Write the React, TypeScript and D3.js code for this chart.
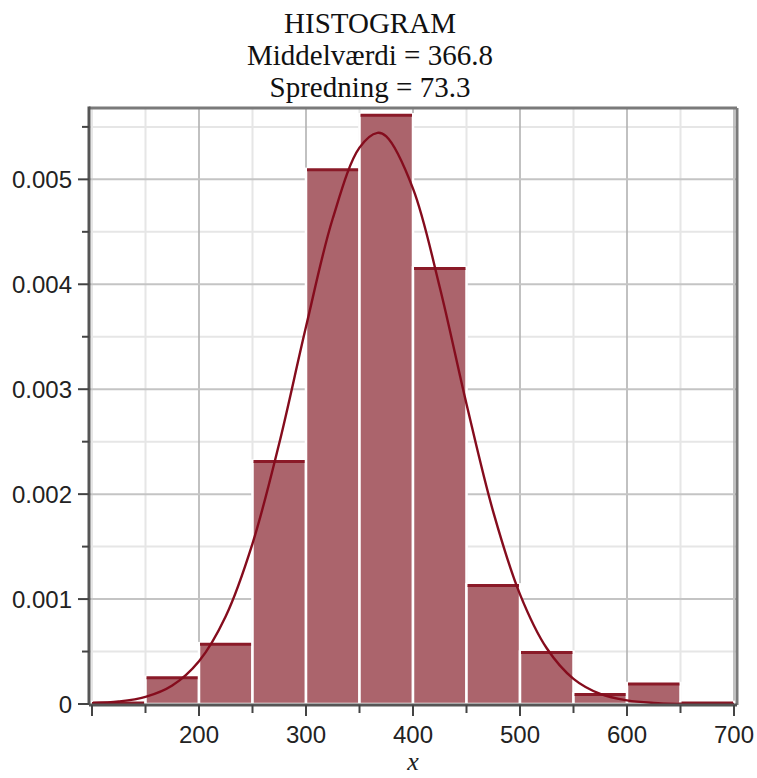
import * as d3 from "d3";

// histogram bins (density scale)
const binStart = [100, 150, 200, 250, 300, 350, 400, 450, 500, 550, 600, 650];
const binEnd = [150, 200, 250, 300, 350, 400, 450, 500, 550, 600, 650, 700];
const density = [
  0.00002, 0.00026, 0.00058, 0.00232, 0.0051, 0.00562,
  0.00416, 0.00114, 0.0005, 0.0001, 0.0002, 0.00002,
];

// fitted normal curve
const curveX = [
  100, 125, 150, 175, 200, 225, 250, 275, 300, 325, 350, 366.8, 375,
  400, 425, 450, 475, 500, 525, 550, 575, 600, 625, 650, 675, 700,
];
const curveY = [
  0.0000072, 0.0000236, 0.0000685, 0.000177, 0.000408, 0.000837, 0.001529,
  0.002485, 0.003595, 0.004627, 0.005302, 0.005443, 0.005409, 0.004912,
  0.003972, 0.002859, 0.001831, 0.001045, 0.000531, 0.00024, 0.0000965,
  0.0000346, 0.000011, 0.0000031, 0.0000008, 0.0000002,
];

const xMajor = [100, 200, 300, 400, 500, 600, 700];
const xLabels = [200, 300, 400, 500, 600, 700];
const xMinor = [150, 250, 350, 450, 550, 650];
const yMajor = [0, 0.001, 0.002, 0.003, 0.004, 0.005];
const yMinor = [0.0005, 0.0015, 0.0025, 0.0035, 0.0045, 0.0055];

const titleLines = ["HISTOGRAM", "Middelværdi = 366.8", "Spredning = 73.3"];

const W = 757;
const H = 778;
const plot = { left: 89, right: 737, top: 108, bottom: 705 };

const BAR_FILL = "#ab646c";
const BAR_TOP = "#8a1a28";
const CURVE = "#850c1d";

export default function App() {
  const x = d3.scaleLinear().domain([100, 700]).range([92, 734]);
  const y = d3.scaleLinear().domain([0, 0.00568]).range([704, plot.top]);

  const curvePts = curveX.map((v, i) => [v, curveY[i]] as [number, number]);
  const line = d3
    .line<[number, number]>()
    .x((d) => x(d[0]))
    .y((d) => y(d[1]))
    .curve(d3.curveCatmullRom.alpha(0.5));

  const tickFont = "'Liberation Sans', Arial, sans-serif";
  const serif = "'Liberation Serif', 'Times New Roman', serif";
  const fmtY = (v: number) => (v === 0 ? "0" : d3.format(".3f")(v));

  return (
    <svg
      width={W}
      height={H}
      style={{ position: "absolute", left: 0, top: 0, background: "#fff" }}
    >
      {/* title */}
      {titleLines.map((t, i) => (
        <text
          key={t}
          x={370}
          y={33 + i * 32}
          textAnchor="middle"
          fontFamily={serif}
          fontSize={29}
          fill="#111"
        >
          {t}
        </text>
      ))}

      {/* minor grid */}
      {xMinor.concat([100]).map((v) => (
        <line key={"xm" + v} x1={x(v)} x2={x(v)} y1={plot.top} y2={plot.bottom}
          stroke="#e6e6e6" strokeWidth={2} />
      ))}
      {yMinor.map((v) => (
        <line key={"ym" + v} x1={plot.left} x2={plot.right} y1={y(v)} y2={y(v)}
          stroke="#e6e6e6" strokeWidth={2} />
      ))}
      {/* major grid */}
      {xMajor.slice(1).map((v) => (
        <line key={"xg" + v} x1={x(v)} x2={x(v)} y1={plot.top} y2={plot.bottom}
          stroke="#b2b2b2" strokeWidth={1.6} />
      ))}
      {yMajor.slice(1).map((v) => (
        <line key={"yg" + v} x1={plot.left} x2={plot.right} y1={y(v)} y2={y(v)}
          stroke="#c4c4c4" strokeWidth={2} />
      ))}

      {/* bars */}
      {density.map((d, i) => (
        <g key={"b" + i}>
          <rect
            x={x(binStart[i])}
            y={y(d)}
            width={x(binEnd[i]) - x(binStart[i])}
            height={y(0) - y(d)}
            fill={BAR_FILL}
            stroke="#fff"
            strokeWidth={2.5}
          />
          <line
            x1={x(binStart[i]) + 1}
            x2={x(binEnd[i]) - 1}
            y1={y(d) + 1}
            y2={y(d) + 1}
            stroke={BAR_TOP}
            strokeWidth={3}
          />
        </g>
      ))}

      {/* normal curve */}
      <path d={line(curvePts) ?? ""} fill="none" stroke={CURVE} strokeWidth={2.4} />

      {/* frame */}
      <line x1={plot.left} x2={plot.right} y1={plot.top} y2={plot.top} stroke="#7a7a7a" strokeWidth={3} />
      <line x1={plot.right} x2={plot.right} y1={plot.top} y2={plot.bottom} stroke="#7a7a7a" strokeWidth={3} />
      <line x1={plot.left} x2={plot.left} y1={plot.top - 1.5} y2={plot.bottom} stroke="#555" strokeWidth={3} />
      <line x1={plot.left} x2={plot.right} y1={plot.bottom} y2={plot.bottom} stroke="#555" strokeWidth={3} />

      {/* y ticks */}
      {yMajor.map((v) => (
        <g key={"yt" + v}>
          <line x1={plot.left - 11} x2={plot.left} y1={y(v)} y2={y(v)} stroke="#444" strokeWidth={2} />
          <text x={72} y={y(v)} dy="0.36em" textAnchor="end" fontFamily={tickFont} fontSize={24} fill="#222">
            {fmtY(v)}
          </text>
        </g>
      ))}
      {yMinor.map((v) => (
        <line key={"ytm" + v} x1={plot.left - 7} x2={plot.left} y1={y(v)} y2={y(v)} stroke="#444" strokeWidth={2} />
      ))}

      {/* x ticks */}
      {xMajor.map((v) => (
        <line key={"xt" + v} x1={x(v)} x2={x(v)} y1={plot.bottom} y2={plot.bottom + 11} stroke="#444" strokeWidth={2} />
      ))}
      {xMinor.map((v) => (
        <line key={"xtm" + v} x1={x(v)} x2={x(v)} y1={plot.bottom} y2={plot.bottom + 8} stroke="#444" strokeWidth={2} />
      ))}
      {xLabels.map((v) => (
        <text key={"xl" + v} x={x(v)} y={743} textAnchor="middle" fontFamily={tickFont} fontSize={24} fill="#222">
          {v}
        </text>
      ))}

      {/* axis title */}
      <text x={x(400)} y={770} textAnchor="middle" fontFamily={serif} fontStyle="italic" fontSize={26} fill="#222">
        x
      </text>
    </svg>
  );
}
